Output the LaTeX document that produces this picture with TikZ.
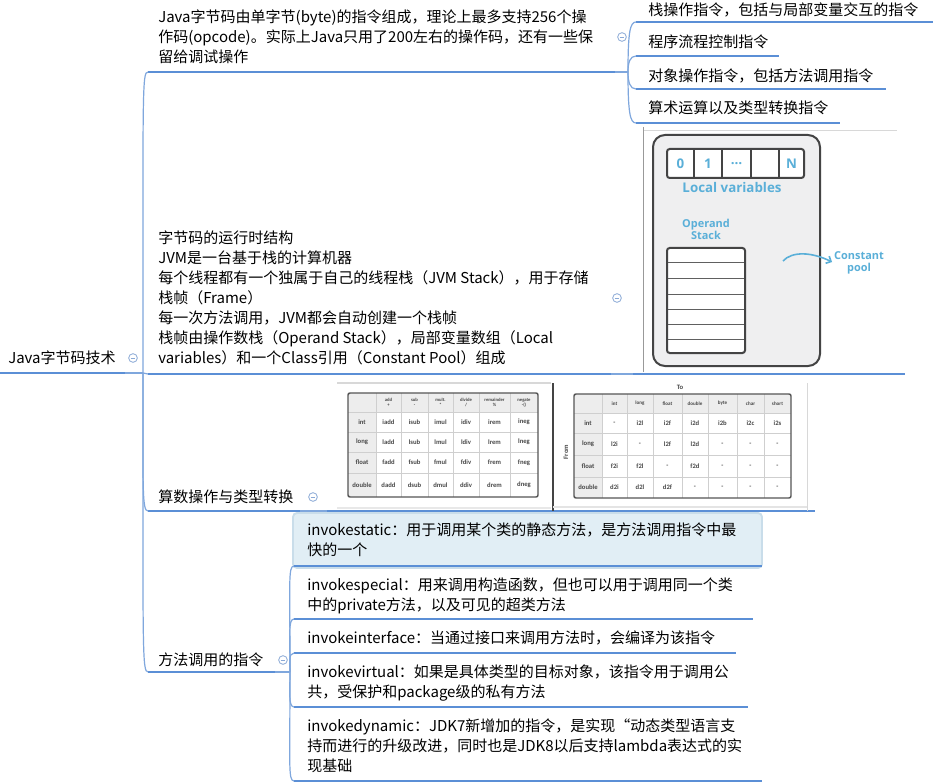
\documentclass[tikz,border=0pt]{standalone}
\usepackage{fontspec}
\setmainfont{Noto Sans CJK SC}
\newfontfamily\imgfont{Open Sans}
\newfontfamily\tabfont{Carlito}
\usetikzlibrary{calc,arrows.meta}
\definecolor{lineblue}{HTML}{5B8FD6}
\definecolor{connblue}{HTML}{7FA7DD}
\definecolor{collcol}{HTML}{8AA9D6}
\definecolor{selfill}{HTML}{E1EEF5}
\definecolor{selborder}{HTML}{C9DDEA}
\definecolor{imgblue}{HTML}{5AAFD8}
\definecolor{framefill}{HTML}{EFEFF0}
\definecolor{framedraw}{HTML}{444444}
\definecolor{tabgrey}{HTML}{EDEDED}
\definecolor{tabline}{HTML}{CFCFCF}
\definecolor{tabedge}{HTML}{555555}
\definecolor{tabtext}{HTML}{484848}
\definecolor{imgedge}{HTML}{D8D8D8}
\newcommand\brcurve[3][0.9]{\draw[conn] (#2) .. controls ($(#2)!#1!(#2|-#3)$) and ($(#3)+(-6,0)$) .. (#3);}
\begin{document}
\begin{tikzpicture}[x=0.75pt,y=-0.75pt,
  txt/.style={inner sep=0pt, anchor=north west, align=left, font=\fontsize{11.25}{15}\selectfont},
  uline/.style={draw=lineblue, line width=2pt},
  conn/.style={draw=connblue, line width=0.9pt},
  coll/.style={circle, draw=collcol, fill=white, line width=0.6pt, minimum size=6.5pt, inner sep=0pt,
    path picture={\draw[collcol,line width=0.6pt] ([xshift=-1.7pt]path picture bounding box.center) -- ([xshift=1.7pt]path picture bounding box.center);}},
  imglab/.style={inner sep=0pt, text=imgblue, font=\imgfont\bfseries\fontsize{8.2}{8.5}\selectfont, align=center},
  biglab/.style={imglab, font=\imgfont\bfseries\fontsize{10}{10}\selectfont},
  tb/.style={inner sep=0pt, text=tabtext, font=\tabfont\bfseries\fontsize{5}{5.5}\selectfont},
  th/.style={inner sep=0pt, text=tabtext, align=center, font=\tabfont\bfseries\fontsize{3.5}{3.9}\selectfont}
]
\useasboundingbox (0,0) rectangle (942,784);
\fill[white] (0,0) rectangle (942,784);

% ---------------- root ----------------
\node[txt] (root) at (8,350.5) {Java字节码技术};
\node[coll] (k0) at (133,358) {};
\coordinate (r0) at (0,373);
\coordinate (r1) at (125,373);
\coordinate (R) at (143,373);
\draw[uline] (r0) -- (r1);
\draw[conn] (r1) -- (R);

% ---------------- branch 1 ----------------
\node[txt] (b1) at (158,10) {Java字节码由单字节(byte)的指令组成，理论上最多支持256个操\\作码(opcode)。实际上Java只用了200左右的操作码，还有一些保\\留给调试操作};
\coordinate (B1) at (148,72);
\coordinate (B1e) at (615,72);
\coordinate (J1) at (628,72);
\draw[uline] (B1) -- (B1e);
\draw[conn] (B1e) -- (J1);
\node[coll] (k1) at (622,37) {};
\brcurve[0.95]{R}{B1}

\node[txt] (c11) at (648,2.5) {栈操作指令，包括与局部变量交互的指令};
\node[txt] (c12) at (648,34.5) {程序流程控制指令};
\node[txt] (c13) at (648,68.5) {对象操作指令，包括方法调用指令};
\node[txt] (c14) at (648,100.5) {算术运算以及类型转换指令};
\coordinate (C11) at (636,22);  \coordinate (C11e) at (933,22);
\coordinate (C12) at (636,56);  \coordinate (C12e) at (779,56);
\coordinate (C13) at (636,89);  \coordinate (C13e) at (886,89);
\coordinate (C14) at (636,123); \coordinate (C14e) at (840,123);
\draw[uline] (C11) -- (C11e);
\draw[uline] (C12) -- (C12e);
\draw[uline] (C13) -- (C13e);
\draw[uline] (C14) -- (C14e);
\brcurve[0.8]{J1}{C11}
\brcurve[0.6]{J1}{C12}
\brcurve[0.6]{J1}{C13}
\brcurve[0.8]{J1}{C14}

% ---------------- branch 2 ----------------
\node[txt] (b2) at (158,230.5) {字节码的运行时结构\\JVM是一台基于栈的计算机器\\每个线程都有一个独属于自己的线程栈（JVM Stack），用于存储\\栈帧（Frame）\\每一次方法调用，JVM都会自动创建一个栈帧\\栈帧由操作数栈（Operand Stack），局部变量数组（Local\\variables）和一个Class引用（Constant Pool）组成};
\coordinate (B2) at (148,374);
\coordinate (B2a) at (611,374);
\coordinate (B2b) at (633,374);
\coordinate (B2e) at (905,374);
\draw[conn] (R) -- (B2);
\draw[uline] (B2) -- (B2a);
\draw[conn] (B2a) -- (B2b);
\draw[uline] (B2b) -- (B2e);
\node[coll] (k2) at (617,298) {};

% frame picture
\draw[imgedge, line width=0.6pt] (643,130) -- (897,130);
\draw[gray!80, line width=0.6pt] (643,127) -- (643,372);
\filldraw[fill=framefill, draw=framedraw, line width=1.5pt, rounded corners=9pt] (653,135) rectangle (820,366);
\filldraw[fill=white, draw=framedraw, line width=1.5pt, rounded corners=2pt] (667,149) rectangle (804,178);
\foreach \xx in {694,722,751,779} \draw[framedraw, line width=1.1pt] (\xx,149) -- (\xx,178);
\node[biglab] (lv0) at (680.5,164) {0};
\node[biglab] (lv1) at (708,164) {1};
\node[biglab] (lv2) at (736.5,164) {\textellipsis};
\node[biglab] (lvn) at (791.5,164) {N};
\node[biglab] (lvlab) at (732,188) {Local variables};
\node[imglab] (oplab) at (706,229.5) {Operand\\Stack};
\filldraw[fill=white, draw=framedraw, line width=1.5pt, rounded corners=2pt] (667,248) rectangle (745,353);
\foreach \yy in {262,278,294,309,324,339} \draw[gray!75!black, line width=0.6pt] (668,\yy) -- (744,\yy);
\node[imglab] (cp) at (859,263) {Constant\\pool};
\coordinate (ar0) at (783,261);
\coordinate (ar1) at (832,262);
\draw[imgblue, line width=1.2pt, -{Straight Barb[length=3pt,width=6pt]}] (ar0) .. controls (792,251) and (812,252) .. (ar1);

% ---------------- branch 3 ----------------
\node[txt] (b3) at (158,489.5) {算数操作与类型转换};
\coordinate (B3) at (148,511);
\coordinate (B3a) at (300,511);
\coordinate (B3b) at (327,511);
\coordinate (B3e) at (815,511);
\draw[uline] (B3) -- (B3a);
\draw[conn] (B3a) -- (B3b);
\draw[uline] (B3b) -- (B3e);
\node[coll] (k3) at (313,497) {};
\brcurve[0.85]{R}{B3}

% arithmetic table picture
\draw[imgedge, line width=0.8pt] (337,383) -- (551,383);
\draw[imgedge!60, line width=0.8pt] (337,508) -- (551,508);
\fill[tabgrey] (348,393) rectangle (538,412);
\fill[tabgrey] (348,393) rectangle (376,497);
\foreach \xx in {376,401,428,453,479,510} \draw[tabline, line width=0.6pt] (\xx,393) -- (\xx,497);
\foreach \yy in {412,432,452,473} \draw[tabline, line width=0.6pt] (348,\yy) -- (538,\yy);
\draw[tabedge, line width=1.1pt, rounded corners=1.5pt] (348,393) rectangle (538,497);
\node[th] (ah1) at (388.5,402.5) {add\\+};
\node[th] (ah2) at (414.5,402.5) {sub\\-};
\node[th] (ah3) at (440.5,402.5) {mult.\\*};
\node[th] (ah4) at (466,402.5) {divide\\/};
\node[th] (ah5) at (494.5,402.5) {remainder\\\%};
\node[th] (ah6) at (524,402.5) {negate\\-()};
\foreach \lab/\p/\yc [count=\r] in {int/i/422, long/l/442, float/f/462.5, double/d/485}{
  \node[tb] (al\r) at (362,\yc) {\lab};
  \foreach \op/\xc [count=\c] in {add/388.5, sub/414.5, mul/440.5, div/466, rem/494.5, neg/524}
    \node[tb] (a\r-\c) at (\xc,\yc) {\p\op};
}

% conversion table picture
\draw[framedraw, line width=0.8pt] (553,383) -- (553,511);
\draw[imgedge, line width=0.6pt] (807,383) -- (807,511);
\draw[imgedge!70, line width=0.8pt] (553,507) -- (807,507);
\node[tb] (to) at (680,387) {To};
\node[tb, rotate=90] (from) at (566,452) {From};
\fill[tabgrey] (574,394) rectangle (791,413);
\fill[tabgrey] (574,394) rectangle (602,498);
\foreach \xx in {602,627,653,682,708,737,764} \draw[tabline, line width=0.6pt] (\xx,394) -- (\xx,498);
\foreach \yy in {413,433,455,477} \draw[tabline, line width=0.6pt] (574,\yy) -- (791,\yy);
\draw[tabedge, line width=1.1pt, rounded corners=1.5pt] (574,394) rectangle (791,498);
\foreach \e/\xc [count=\c] in {int/614.5, long/640, float/667.5, double/695, byte/722.5, char/750.5, short/777.5}
  \node[th, font=\tabfont\bfseries\fontsize{3.8}{4}\selectfont] (th\c) at (\xc,403.5) {\e};
\node[tb] (cl1) at (588,423) {int};
\node[tb] (cl2) at (588,444) {long};
\node[tb] (cl3) at (588,466) {float};
\node[tb] (cl4) at (588,487.5) {double};
\foreach \e/\xc [count=\c] in {-/614.5, i2l/640, i2f/667.5, i2d/695, i2b/722.5, i2c/750.5, i2s/777.5}
  \node[tb] (c1-\c) at (\xc,423) {\e};
\foreach \e/\xc [count=\c] in {l2i/614.5, -/640, l2f/667.5, l2d/695, -/722.5, -/750.5, -/777.5}
  \node[tb] (c2-\c) at (\xc,444) {\e};
\foreach \e/\xc [count=\c] in {f2i/614.5, f2l/640, -/667.5, f2d/695, -/722.5, -/750.5, -/777.5}
  \node[tb] (c3-\c) at (\xc,466) {\e};
\foreach \e/\xc [count=\c] in {d2i/614.5, d2l/640, d2f/667.5, -/695, -/722.5, -/750.5, -/777.5}
  \node[tb] (c4-\c) at (\xc,487.5) {\e};

% ---------------- branch 4 ----------------
\node[txt] (b4) at (158,652.5) {方法调用的指令};
\coordinate (B4) at (148,672);
\coordinate (B4a) at (275,672);
\coordinate (J4) at (290,672);
\draw[uline] (B4) -- (B4a);
\draw[conn] (B4a) -- (J4);
\node[coll] (k4) at (283,660) {};
\brcurve[0.93]{R}{B4}

\filldraw[fill=selfill, draw=selborder, line width=1.4pt, rounded corners=3pt] (293,513) rectangle (762,568);
\node[txt] (s1) at (307,522.5) {invokestatic：用于调用某个类的静态方法，是方法调用指令中最\\快的一个};
\node[txt] (s2) at (307,577.5) {invokespecial：用来调用构造函数，但也可以用于调用同一个类\\中的private方法，以及可见的超类方法};
\node[txt] (s3) at (307,630.5) {invokeinterface：当通过接口来调用方法时，会编译为该指令};
\node[txt] (s4) at (307,664.5) {invokevirtual：如果是具体类型的目标对象，该指令用于调用公\\共，受保护和package级的私有方法};
\node[txt] (s5) at (307,718.5) {invokedynamic：JDK7新增加的指令，是实现“动态类型语言支\\持而进行的升级改进，同时也是JDK8以后支持lambda表达式的实\\现基础};
\coordinate (S1) at (294,566); \coordinate (S1e) at (762,566);
\coordinate (S2) at (294,619); \coordinate (S2e) at (753,619);
\coordinate (S3) at (294,653); \coordinate (S3e) at (736,653);
\coordinate (S4) at (294,707); \coordinate (S4e) at (748,707);
\coordinate (S5) at (294,781); \coordinate (S5e) at (762,781);
\draw[uline] (S1) -- (S1e);
\draw[uline] (S2) -- (S2e);
\draw[uline] (S3) -- (S3e);
\draw[uline] (S4) -- (S4e);
\draw[uline] (S5) -- (S5e);
\brcurve[0.85]{J4}{S1}
\brcurve[0.7]{J4}{S2}
\brcurve[0.4]{J4}{S3}
\brcurve[0.5]{J4}{S4}
\brcurve[0.85]{J4}{S5}
\end{tikzpicture}
\end{document}
